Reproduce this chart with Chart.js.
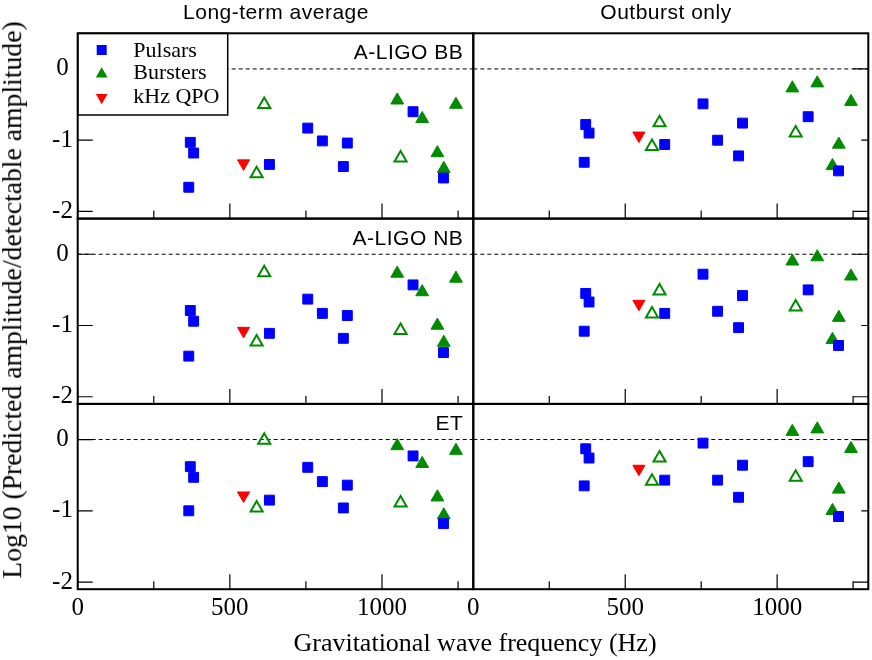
<!DOCTYPE html>
<html>
<head>
<meta charset="utf-8">
<script src="https://cdn.jsdelivr.net/npm/chart.js@4.4.0/dist/chart.umd.min.js"></script>
<style>
  body { margin: 0; background: #fff; }
  #wrap { position: relative; width: 872px; height: 660px; overflow: hidden; background: #fff; }
  #wrap canvas { position: absolute; left: 0; top: 0; }
  .txt { position: absolute; white-space: nowrap; line-height: 1; color: #000; }
  .sans { font-family: "Liberation Sans", Arial, sans-serif; font-size: 21px; letter-spacing: 0.5px; }
  .serif { font-family: "Liberation Serif", "Times New Roman", serif; font-size: 26px; }
</style>
</head>
<body>
<div id="wrap">
  <div class="txt sans" style="left:276px; top:0.5px; transform:translateX(-50%);">Long-term average</div>
  <div class="txt sans" style="left:666px; top:0.5px; transform:translateX(-50%);">Outburst only</div>
  <div class="txt serif" style="left:475px; top:630px; transform:translateX(-50%);">Gravitational wave frequency (Hz)</div>
  <div class="txt serif" style="left:12.4px; top:300px; font-size:27.7px; transform:translate(-50%,-50%) rotate(-90deg);">Log10 (Predicted amplitude/detectable amplitude)</div>
</div>
<script>
const SERIF = '"Liberation Serif", "Times New Roman", serif';
const SANS = '"Liberation Sans", Arial, sans-serif';
const BLUE = '#0000ff';
const GREEN = '#008b00';
const RED = '#ff0000';

// gravitational wave frequency (Hz) of each source
const freqPulsars = [365, 370, 381, 630, 756, 804, 873, 886, 1102, 1202];
const freqBursters = [1050, 1132, 1182, 1203, 1243];
const freqBurstersOpen = [588, 613, 1061];
const freqQPO = [545];

// log10(predicted / detectable amplitude)
const pulsarsLongBB = [-1.66, -1.03, -1.18, -1.34, -0.83, -1.01, -1.37, -1.04, -0.60, -1.53];
const pulsarsOutBB  = [-1.31, -0.78, -0.90, -1.06, -0.49, -1.00, -1.22, -0.76, -0.67, -1.43];
const pulsarsLongNB = [-1.43, -0.79, -0.94, -1.11, -0.63, -0.83, -1.18, -0.86, -0.43, -1.38];
const pulsarsOutNB  = [-1.08, -0.55, -0.67, -0.83, -0.28, -0.80, -1.03, -0.58, -0.50, -1.28];
const pulsarsLongET = [-1.00, -0.38, -0.53, -0.85, -0.39, -0.59, -0.96, -0.64, -0.23, -1.18];
const pulsarsOutET  = [-0.65, -0.13, -0.26, -0.57, -0.05, -0.57, -0.81, -0.36, -0.31, -1.08];

const burstersLongBB = [-0.44, -0.70, -1.18, -1.40, -0.50];
const burstersOutBB  = [-0.27, -0.20, -1.36, -1.06, -0.46];
const burstersLongNB = [-0.27, -0.53, -1.00, -1.24, -0.34];
const burstersOutNB  = [-0.10, -0.04, -1.20, -0.89, -0.31];
const burstersLongET = [-0.09, -0.34, -0.81, -1.06, -0.155];
const burstersOutET  = [0.11, 0.145, -1.00, -0.70, -0.13];

const openLongBB = [-1.47, -0.50, -1.25];
const openOutBB  = [-1.09, -0.755, -0.90];
const openLongNB = [-1.23, -0.26, -1.07];
const openOutNB  = [-0.84, -0.515, -0.74];
const openLongET = [-0.96, -0.01, -0.89];
const openOutET  = [-0.585, -0.26, -0.53];

const qpoLongBB = [-1.325];
const qpoOutBB  = [-0.935];
const qpoLongNB = [-1.075];
const qpoOutNB  = [-0.695];
const qpoLongET = [-0.785];
const qpoOutET  = [-0.41];

const xMajorTicks = [0, 500, 1000];
const xMinorTicks = [250, 750, 1250];
const yTickValues = [0, -1, -2];
const rowLabels = ['A-LIGO BB', 'A-LIGO NB', 'ET'];
const legendLabels = ['Pulsars', 'Bursters', 'kHz QPO'];

const W = 872, H = 660;
const colX = [77.7, 473.3, 868.3];
const rowY = [33.3, 218.6, 403.9, 589.2];

const panels = [
  { row: 0, col: 0, pulsars: pulsarsLongBB, bursters: burstersLongBB, open: openLongBB, qpo: qpoLongBB },
  { row: 0, col: 1, pulsars: pulsarsOutBB,  bursters: burstersOutBB,  open: openOutBB,  qpo: qpoOutBB },
  { row: 1, col: 0, pulsars: pulsarsLongNB, bursters: burstersLongNB, open: openLongNB, qpo: qpoLongNB },
  { row: 1, col: 1, pulsars: pulsarsOutNB,  bursters: burstersOutNB,  open: openOutNB,  qpo: qpoOutNB },
  { row: 2, col: 0, pulsars: pulsarsLongET, bursters: burstersLongET, open: openLongET, qpo: qpoLongET },
  { row: 2, col: 1, pulsars: pulsarsOutET,  bursters: burstersOutET,  open: openOutET,  qpo: qpoOutET }
];

function toPoints(freqs, vals) {
  return freqs.map((f, i) => ({ x: f, y: vals[i] }));
}

function trianglePath(ctx, x, y, r, rot) {
  ctx.beginPath();
  for (let k = 0; k < 3; k++) {
    const ang = rot * Math.PI / 180 + k * 2 * Math.PI / 3;
    const px = x + Math.sin(ang) * r, py = y - Math.cos(ang) * r;
    if (k === 0) ctx.moveTo(px, py); else ctx.lineTo(px, py);
  }
  ctx.closePath();
}

function drawLegend(ctx, a) {
  const bx = a.left, by = a.top, bw = 150, bh = 81.7;
  ctx.save();
  ctx.fillStyle = '#fff';
  ctx.fillRect(bx, by, bw, bh);
  ctx.lineWidth = 1.5;
  ctx.strokeStyle = '#000';
  ctx.strokeRect(bx, by, bw, bh);
  const sx = bx + 24;
  ctx.fillStyle = BLUE;
  ctx.fillRect(sx - 5, by + 16.7 - 5, 10, 10);
  ctx.fillStyle = GREEN;
  trianglePath(ctx, sx, by + 40.7, 6.8, 0);
  ctx.fill();
  ctx.fillStyle = RED;
  trianglePath(ctx, sx, by + 64.2, 6.8, 180);
  ctx.fill();
  ctx.fillStyle = '#000';
  ctx.font = '22px ' + SERIF;
  ctx.textAlign = 'left';
  ctx.textBaseline = 'alphabetic';
  const baselines = [23.4, 45.7, 69.7];
  legendLabels.forEach((t, k) => ctx.fillText(t, bx + 55.6, by + baselines[k]));
  ctx.restore();
}

const panelDecor = {
  id: 'panelDecor',
  beforeDatasetsDraw(chart) {
    const { ctx, chartArea: a } = chart;
    const y0 = chart.scales.y.getPixelForValue(0);
    ctx.save();
    ctx.strokeStyle = '#000';
    ctx.lineWidth = 1;
    ctx.setLineDash([4, 3]);
    ctx.beginPath();
    ctx.moveTo(a.left, y0);
    ctx.lineTo(a.right, y0);
    ctx.stroke();
    ctx.restore();
  },
  afterDatasetsDraw(chart, args, o) {
    const { ctx, chartArea: a, scales: { x, y } } = chart;
    ctx.save();
    ctx.strokeStyle = '#000';
    ctx.lineWidth = 1.2;
    ctx.beginPath();
    xMajorTicks.forEach(v => {
      const px = x.getPixelForValue(v);
      ctx.moveTo(px, a.bottom); ctx.lineTo(px, a.bottom - 15);
    });
    xMinorTicks.forEach(v => {
      const px = x.getPixelForValue(v);
      ctx.moveTo(px, a.bottom); ctx.lineTo(px, a.bottom - 8);
    });
    yTickValues.forEach(v => {
      const py = y.getPixelForValue(v);
      if (o.side === 'left') {
        ctx.moveTo(a.left, py); ctx.lineTo(a.left + 15, py);
      } else {
        const len = v % 2 === 0 ? 15 : 7;
        ctx.moveTo(a.right, py); ctx.lineTo(a.right - len, py);
      }
    });
    ctx.stroke();
    if (o.legend) drawLegend(ctx, a);
    ctx.lineWidth = 2;
    ctx.strokeRect(a.left, a.top, a.right - a.left, a.bottom - a.top);
    if (o.label) {
      ctx.fillStyle = '#000';
      ctx.font = '21px ' + SANS;
      ctx.letterSpacing = '0.5px';
      ctx.textAlign = 'right';
      ctx.textBaseline = 'alphabetic';
      ctx.fillText(o.label, a.right - 10, a.top + 26);
    }
    ctx.restore();
  }
};

const wrap = document.getElementById('wrap');

panels.forEach(p => {
  const canvas = document.createElement('canvas');
  canvas.width = W;
  canvas.height = H;
  wrap.insertBefore(canvas, wrap.firstChild);

  const left = colX[p.col], right = colX[p.col + 1];
  const top = rowY[p.row], bottom = rowY[p.row + 1];
  const showY = p.col === 0;
  const showX = p.row === 2;
  const yw = showY ? 60 : 0;
  const xh = showX ? 50 : 0;

  new Chart(canvas, {
    type: 'scatter',
    data: {
      datasets: [
        {
          label: 'Pulsars',
          data: toPoints(freqPulsars, p.pulsars),
          pointStyle: 'rect',
          pointRadius: 7,
          backgroundColor: BLUE,
          borderColor: BLUE,
          borderWidth: 1
        },
        {
          label: 'Bursters',
          data: toPoints(freqBursters, p.bursters),
          pointStyle: 'triangle',
          pointRadius: 7.4,
          backgroundColor: GREEN,
          borderColor: GREEN,
          borderWidth: 1
        },
        {
          label: 'Bursters (open)',
          data: toPoints(freqBurstersOpen, p.open),
          pointStyle: 'triangle',
          pointRadius: 7,
          backgroundColor: 'rgba(255,255,255,0)',
          borderColor: GREEN,
          borderWidth: 2
        },
        {
          label: 'kHz QPO',
          data: toPoints(freqQPO, p.qpo),
          pointStyle: 'triangle',
          pointRotation: 180,
          pointRadius: 7,
          backgroundColor: RED,
          borderColor: RED,
          borderWidth: 1
        }
      ]
    },
    options: {
      responsive: false,
      animation: false,
      devicePixelRatio: 1,
      layout: {
        autoPadding: false,
        padding: { left: left - yw, right: W - right, top: top, bottom: H - bottom - xh }
      },
      plugins: {
        legend: { display: false },
        tooltip: { enabled: false },
        panelDecor: {
          side: p.col === 0 ? 'left' : 'right',
          legend: p.row === 0 && p.col === 0,
          label: p.col === 0 ? rowLabels[p.row] : null
        }
      },
      scales: {
        x: {
          type: 'linear',
          min: 0,
          max: 1300,
          grid: { display: false, drawTicks: false },
          border: { display: false },
          afterBuildTicks: s => { s.ticks = xMajorTicks.map(v => ({ value: v })); },
          ticks: {
            display: showX,
            autoSkip: false,
            maxRotation: 0,
            padding: 4,
            color: '#000',
            font: { family: SERIF, size: 25 },
            callback: v => String(v)
          },
          afterFit: s => { s.height = xh; }
        },
        y: {
          type: 'linear',
          min: -2.1,
          max: 0.5,
          grid: { display: false, drawTicks: false },
          border: { display: false },
          afterBuildTicks: s => { s.ticks = yTickValues.map(v => ({ value: v })); },
          ticks: {
            display: showY,
            autoSkip: false,
            crossAlign: 'center',
            padding: 4.8,
            color: '#000',
            font: { family: SERIF, size: 25 },
            callback: v => String(v)
          },
          afterFit: s => { s.width = yw; }
        }
      }
    },
    plugins: [panelDecor]
  });
});
</script>
</body>
</html>
